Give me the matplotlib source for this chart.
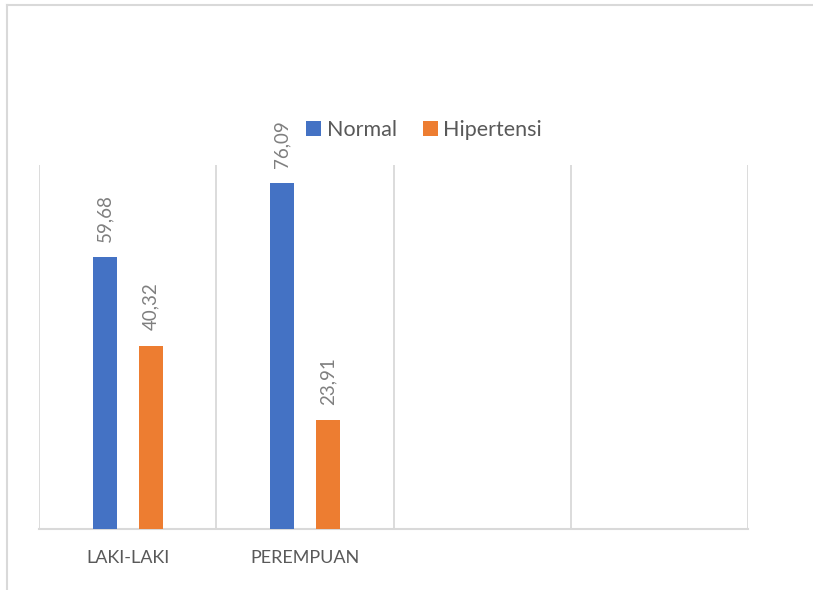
import numpy as np
import matplotlib.pyplot as plt
from matplotlib.lines import Line2D

categories = ["LAKI-LAKI", "PEREMPUAN", "", ""]
normal = [59.68, 76.09, None, None]
hipertensi = [40.32, 23.91, None, None]
series_names = ["Normal", "Hipertensi"]

blue = "#4472c4"
orange = "#ed7d31"
grid_col = "#d9d9d9"
text_col = "#595959"

plt.rcParams['font.family'] = ['Lato', 'DejaVu Sans']

fig = plt.figure(figsize=(8.13, 5.90), dpi=100)
ax = fig.add_axes([39/813, 1-529/590, (748-39)/813, (529-165)/590])

x = np.arange(len(categories))
w = 0.136
off = 0.13

def vals(v):
    return [np.nan if a is None else a for a in v]

b1 = ax.bar(x - off, vals(normal), w, color=blue, label=series_names[0], zorder=3)
b2 = ax.bar(x + off, vals(hipertensi), w, color=orange, label=series_names[1], zorder=3)

for bars, data in ((b1, normal), (b2, hipertensi)):
    for r, v in zip(bars, data):
        if v is None:
            continue
        ax.annotate(f"{v:.2f}".replace(".", ","), (r.get_x() + r.get_width()/2, v),
                    xytext=(0, 11), textcoords="offset points", rotation=90,
                    ha="center", va="bottom", fontsize=13.5, color="#7f7f7f")

ax.set_xlim(-0.5, len(categories) - 0.5)
ax.set_ylim(0, 80)
ax.set_yticks([])
ax.set_xticks(x)
ax.set_xticklabels(categories, fontsize=13, color=text_col)
ax.tick_params(axis="x", length=0, pad=15)
ax.set_xticks(np.arange(-0.5, len(categories)), minor=True)
ax.tick_params(axis="x", which="minor", length=0)
ax.grid(axis="x", which="minor", color=grid_col, lw=1.3, zorder=0)
ax.grid(axis="x", which="major", visible=False)
for s in ("top", "right", "left"):
    ax.spines[s].set_visible(False)
ax.spines["bottom"].set_color(grid_col)
ax.spines["bottom"].set_linewidth(1.5)

fig.legend(handles=[b1, b2], loc="center", bbox_to_anchor=(424/813, 1-130/590),
           ncol=2, frameon=False, fontsize=15.5, labelcolor=text_col,
           handlelength=0.7, handleheight=0.7, handletextpad=0.25, columnspacing=1.2)

# chart border
fig.add_artist(Line2D([7/813, 812/813], [1-5/590, 1-5/590], transform=fig.transFigure, color=grid_col, lw=1.5))
fig.add_artist(Line2D([7/813, 7/813], [1-5/590, 0], transform=fig.transFigure, color=grid_col, lw=1.5))

fig.savefig("out.png", dpi=100)
